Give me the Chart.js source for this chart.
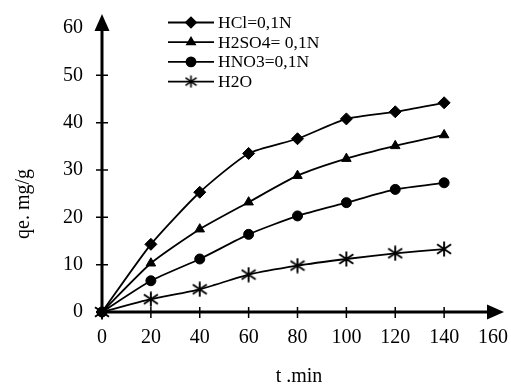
<!DOCTYPE html>
<html><head><meta charset="utf-8">
<script src="https://cdn.jsdelivr.net/npm/chart.js@4/dist/chart.umd.min.js"></script>
<style>html,body{margin:0;padding:0;background:#fff}#wrap{width:511px;height:387px}</style>
</head><body><div id="wrap"><canvas id="c" width="511" height="387"></canvas></div>
<script>
const times = [0, 20, 40, 60, 80, 100, 120, 140];
const hcl   = [0, 14.3, 25.3, 33.5, 36.6, 40.8, 42.3, 44.2];
const h2so4 = [0, 10.3, 17.5, 23.2, 28.8, 32.4, 35.1, 37.4];
const hno3  = [0, 6.6, 11.2, 16.4, 20.3, 23.1, 25.9, 27.3];
const h2o   = [0, 2.7, 4.8, 7.9, 9.8, 11.2, 12.4, 13.3];
const seriesNames = ['HCl=0,1N', 'H2SO4= 0,1N', 'HNO3=0,1N', 'H2O'];
const xTitle = 't .min';
const yTitle = 'qe. mg/g';
const FONT = '"Liberation Serif", "Times New Roman", serif';

function starMarker(size, lw){
  const c = document.createElement('canvas'); c.width = size; c.height = size;
  const g = c.getContext('2d'); g.strokeStyle = '#000'; g.lineWidth = lw;
  const m = size/2, e = 0.5;
  g.beginPath();
  g.moveTo(m,e); g.lineTo(m,size-e);
  g.moveTo(1,size*0.2); g.lineTo(size-1,size*0.8);
  g.moveTo(size-1,size*0.2); g.lineTo(1,size*0.8);
  g.stroke();
  return c;
}
const star = starMarker(16, 1.9);
const starSmall = starMarker(13, 1.6);

const pts = arr => arr.map((v,i)=>({x: times[i], y: v}));
const styles = [
  {pointStyle:'rectRot', pointRadius:6, legend:'rectRot', lr:5},
  {pointStyle:'triangle', pointRadius:5.5, legend:'triangle', lr:4.5},
  {pointStyle:'circle', pointRadius:5, legend:'circle', lr:4.5},
  {pointStyle:star, pointRadius:8, legend:starSmall, lr:5}
];
const allData = [hcl, h2so4, hno3, h2o];
const datasets = allData.map((d,i)=>({
  label: seriesNames[i], data: pts(d),
  borderColor:'#000', backgroundColor:'#000', borderWidth:1.8,
  pointStyle: styles[i].pointStyle, pointRadius: styles[i].pointRadius,
  pointBorderWidth: 1, tension:0.2, clip:false
}));

const deco = {
  id:'deco',
  afterDatasetsDraw(chart){
    const ctx = chart.ctx, a = chart.chartArea;
    const xs = chart.scales.x, ys = chart.scales.y;
    ctx.save();
    ctx.strokeStyle = '#000'; ctx.fillStyle = '#000';
    ctx.lineWidth = 3;
    ctx.beginPath();
    ctx.moveTo(a.left, a.bottom); ctx.lineTo(a.left, 28);
    ctx.moveTo(a.left - 1.5, a.bottom); ctx.lineTo(489, a.bottom);
    ctx.stroke();
    ctx.beginPath();
    ctx.moveTo(a.left, 14); ctx.lineTo(a.left - 7.5, 31); ctx.lineTo(a.left + 7.5, 31); ctx.closePath(); ctx.fill();
    ctx.beginPath();
    ctx.moveTo(504, a.bottom); ctx.lineTo(487, a.bottom - 7.5); ctx.lineTo(487, a.bottom + 7.5); ctx.closePath(); ctx.fill();
    ctx.lineWidth = 1.5;
    ctx.beginPath();
    ys.ticks.forEach(t=>{ if(t.value>0 && t.value<60){ const y = ys.getPixelForValue(t.value); ctx.moveTo(a.left-6,y); ctx.lineTo(a.left+6,y);} });
    xs.ticks.forEach(t=>{ if(t.value>0 && t.value<160){ const x = xs.getPixelForValue(t.value); ctx.moveTo(x,a.bottom-5); ctx.lineTo(x,a.bottom+6);} });
    ctx.stroke();
    ctx.font = '20px ' + FONT; ctx.textAlign = 'center'; ctx.textBaseline = 'middle';
    ctx.fillText(xTitle, 299, 377);
    ctx.save(); ctx.translate(24, 204); ctx.rotate(-Math.PI/2); ctx.fillText(yTitle, 0, 0); ctx.restore();
    ctx.font = '17.5px ' + FONT; ctx.textAlign = 'left';
    chart.data.datasets.forEach((ds,i)=>{
      const y = 22.5 + i*19.7;
      ctx.lineWidth = 1.8; ctx.beginPath(); ctx.moveTo(168,y); ctx.lineTo(214,y); ctx.stroke();
      Chart.helpers.drawPoint(ctx, {pointStyle: styles[i].legend, radius: styles[i].lr, rotation:0, borderWidth:1}, 191, y);
      ctx.fillText(ds.label, 218, y + 1);
    });
    ctx.restore();
  }
};

new Chart(document.getElementById('c'), {
  type:'line',
  data:{datasets},
  options:{
    responsive:false, animation:false, devicePixelRatio:1,
    layout:{padding:{left:0, top:28, right:18, bottom:0}},
    plugins:{legend:{display:false}, tooltip:{enabled:false}},
    scales:{
      x:{type:'linear', min:0, max:160,
        ticks:{stepSize:20, color:'#000', font:{family:FONT, size:20}, padding:14, maxRotation:0},
        grid:{display:false, drawTicks:false}, border:{display:false},
        afterFit(s){ s.height = 75; s.paddingLeft = 0; s.paddingRight = 0; }},
      y:{type:'linear', min:0, max:60,
        ticks:{stepSize:10, color:'#000', font:{family:FONT, size:20}, padding:19},
        grid:{display:false, drawTicks:false}, border:{display:false},
        afterFit(s){ s.width = 102; s.paddingTop = 0; s.paddingBottom = 0; }}
    }
  },
  plugins:[deco]
});
</script></body></html>
